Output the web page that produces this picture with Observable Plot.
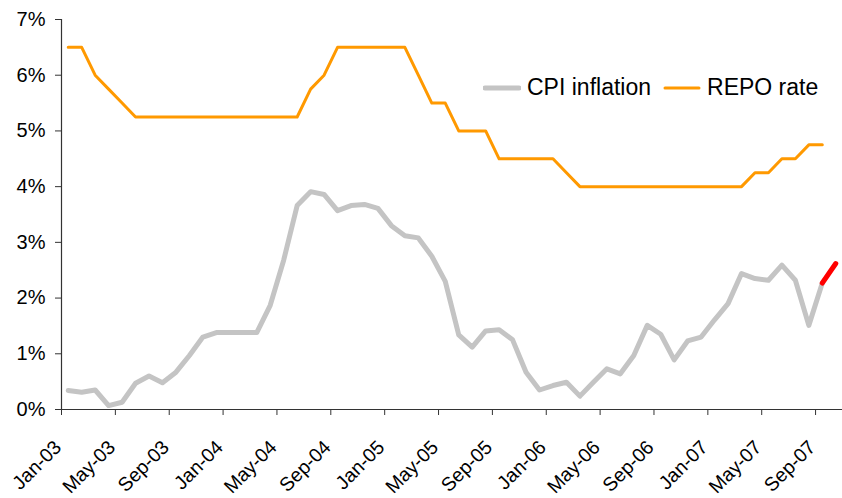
<!DOCTYPE html>
<html>
<head>
<meta charset="utf-8">
<script src="https://cdn.jsdelivr.net/npm/d3@7"></script>
<script src="https://cdn.jsdelivr.net/npm/@observablehq/plot@0.6"></script>
<style>
  html, body { margin: 0; padding: 0; background: #fff; }
  #wrap { position: relative; width: 842px; height: 498px; font-family: "Liberation Sans", Arial, sans-serif; }
  #legend { position: absolute; left: 483px; top: 74px; display: flex; align-items: center; font-size: 23px; color: #000; white-space: nowrap; }
  #legend .sw { display: inline-block; margin-right: 6px; }
  #legend .item { display: flex; align-items: center; margin-right: 12px; }
</style>
</head>
<body>
<div id="wrap"></div>
<script>
// Monthly categories Jan-03 .. Oct-07
const months = [
  "Jan-03","Feb-03","Mar-03","Apr-03","May-03","Jun-03","Jul-03","Aug-03","Sep-03","Oct-03","Nov-03","Dec-03",
  "Jan-04","Feb-04","Mar-04","Apr-04","May-04","Jun-04","Jul-04","Aug-04","Sep-04","Oct-04","Nov-04","Dec-04",
  "Jan-05","Feb-05","Mar-05","Apr-05","May-05","Jun-05","Jul-05","Aug-05","Sep-05","Oct-05","Nov-05","Dec-05",
  "Jan-06","Feb-06","Mar-06","Apr-06","May-06","Jun-06","Jul-06","Aug-06","Sep-06","Oct-06","Nov-06","Dec-06",
  "Jan-07","Feb-07","Mar-07","Apr-07","May-07","Jun-07","Jul-07","Aug-07","Sep-07","Oct-07"
];
// CPI inflation (%)
const cpi = [
  0.34,0.31,0.35,0.07,0.13,0.47,0.60,0.48,0.67,0.97,1.30,1.38,
  1.38,1.38,1.38,1.87,2.68,3.66,3.91,3.86,3.57,3.66,3.68,3.61,
  3.30,3.12,3.08,2.75,2.30,1.34,1.12,1.41,1.43,1.25,0.67,0.35,
  0.43,0.49,0.24,0.49,0.73,0.64,0.97,1.51,1.35,0.89,1.23,1.30,
  1.61,1.90,2.44,2.35,2.32,2.59,2.32,1.51,2.27,2.62
];
// REPO rate (%)
const repo = [
  6.5,6.5,6.0,5.75,5.5,5.25,5.25,5.25,5.25,5.25,5.25,5.25,
  5.25,5.25,5.25,5.25,5.25,5.25,5.75,6.0,6.5,6.5,6.5,6.5,
  6.5,6.5,6.0,5.5,5.5,5.0,5.0,5.0,4.5,4.5,4.5,4.5,
  4.5,4.25,4.0,4.0,4.0,4.0,4.0,4.0,4.0,4.0,4.0,4.0,
  4.0,4.0,4.0,4.25,4.25,4.5,4.5,4.75,4.75
];
const tickLabels = ["Jan-03","May-03","Sep-03","Jan-04","May-04","Sep-04","Jan-05","May-05","Sep-05","Jan-06","May-06","Sep-06","Jan-07","May-07","Sep-07"];
const yTicks = [0,1,2,3,4,5,6,7];
const seriesNames = ["CPI inflation", "REPO rate"];
const colors = { cpi: "#c4c4c4", latest: "#ff0000", repo: "#ff9900" };

const cpiRows = cpi.map((v, i) => ({ i: i + 0.5, v }));
const repoRows = repo.map((v, i) => ({ i: i + 0.5, v }));
const lastTwo = cpiRows.slice(-2);
const cpiMain = cpiRows.slice(0, -1);
const tickIdx = tickLabels.map(l => months.indexOf(l));
const tickRows = tickIdx.map((x, k) => ({ x, y: 0, label: tickLabels[k] }));

const font = '"Liberation Sans", Arial, sans-serif';

const chart = Plot.plot({
  width: 842,
  height: 498,
  marginLeft: 61,
  marginRight: 0,
  marginTop: 19,
  marginBottom: 89,
  style: { fontFamily: font, background: "#fff", color: "#000" },
  x: { type: "linear", domain: [0, months.length], axis: null, label: null },
  y: { type: "linear", domain: [0, 7], axis: null, label: null },
  marks: [
    Plot.axisY({ ticks: yTicks, tickFormat: d => d + "%", tickSize: 6, tickPadding: 10, fontSize: 20, stroke: "#333", fill: "#000", label: null }),
    Plot.axisX({ ticks: tickIdx, tickFormat: () => "", tickSize: 6, stroke: "#333", label: null }),
    Plot.ruleX([0], { y1: 0, y2: 7, stroke: "#333", strokeWidth: 1.2 }),
    Plot.ruleY([0], { stroke: "#333", strokeWidth: 1.2 }),
    Plot.text(tickRows, { x: "x", y: "y", text: "label", rotate: -45, textAnchor: "end", lineAnchor: "bottom", dx: 1, dy: 39, fontSize: 19.5, fill: "#000" }),
    Plot.line(repoRows, { x: "i", y: "v", stroke: colors.repo, strokeWidth: 3 }),
    Plot.line(cpiMain, { x: "i", y: "v", stroke: colors.cpi, strokeWidth: 5 }),
    Plot.line(lastTwo, { x: "i", y: "v", stroke: colors.latest, strokeWidth: 5 })
  ]
});

document.getElementById("wrap").appendChild(chart);

// Legend overlay
const legend = document.createElement("div");
legend.id = "legend";
[["cpi", 5], ["repo", 3]].forEach(([k, w], j) => {
  const item = document.createElement("div");
  item.className = "item";
  item.innerHTML = `<svg class="sw" width="38" height="10"><line x1="2" y1="5" x2="36" y2="5" stroke="${colors[k]}" stroke-width="${w}" stroke-linecap="round"/></svg><span>${seriesNames[j]}</span>`;
  legend.appendChild(item);
});
document.getElementById("wrap").appendChild(legend);
</script>
</body>
</html>
